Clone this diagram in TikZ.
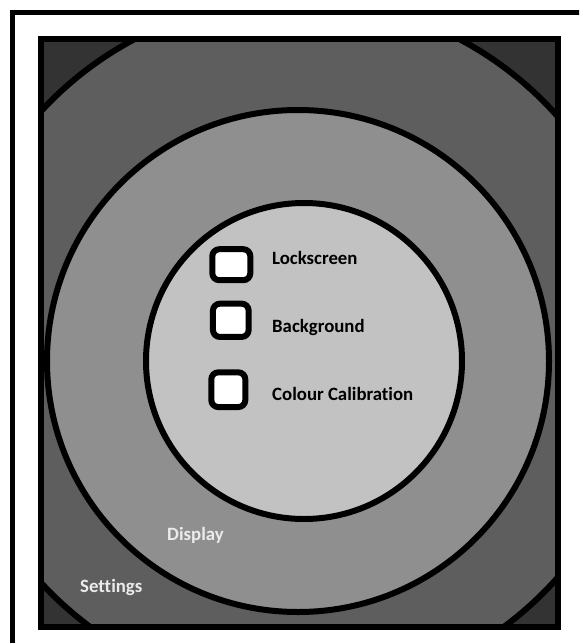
\documentclass[tikz,border=0pt]{standalone}
\usepackage{fontspec}
\setmainfont[Ligatures={NoCommon}]{Carlito}
\begin{document}
\begin{tikzpicture}[x=1pt,y=-1pt,
  ring/.style={draw=black,line width=6pt},
  chk/.style={draw=black,fill=white,line width=6pt,rounded corners=7pt,inner sep=0pt},
  lbl/.style={anchor=base west,inner sep=0pt,font=\fontsize{18.8}{20}\selectfont\bfseries,text=black},
  wlbl/.style={lbl,text=white!92!black}]
\useasboundingbox (0,0) rectangle (579,643);
\fill[white] (0,0) rectangle (579,643);
% outer border (cropped at right and bottom)
\begin{scope}
\clip (0,0) rectangle (579,643);
\draw[line width=5.5pt] (12.5,12.5) rectangle (620,690);
\end{scope}
% inner panel
\begin{scope}
\clip (41,39) rectangle (558,627);
\fill[black!80] (41,39) rectangle (558,627);
\fill[black!63] (297,347) circle (348);
\draw[ring] (297,347) circle (348);
\fill[black!44] (298,361) circle (251);
\draw[ring] (298,361) circle (251);
\fill[black!24] (304,361) circle (158);
\draw[ring] (304,361) circle (158);
\end{scope}
\draw[line width=6pt] (41,39) rectangle (558,627);
% checkboxes
\node[chk,minimum width=38pt,minimum height=31pt] (b1) at (231.3,264.7) {};
\node[chk,minimum width=35.7pt,minimum height=33.3pt] (b2) at (230.8,320.3) {};
\node[chk,minimum width=34pt,minimum height=34.7pt] (b3) at (228.3,389.7) {};
% labels
\node[lbl] (l1) at (272,264) {Lockscreen};
\node[lbl] (l2) at (272,332) {Background};
\node[lbl] (l3) at (272,400) {Colour Calibration};
\node[wlbl] (disp) at (167,540) {Display};
\node[wlbl] (sett) at (80,592) {Settings};
\end{tikzpicture}
\end{document}
